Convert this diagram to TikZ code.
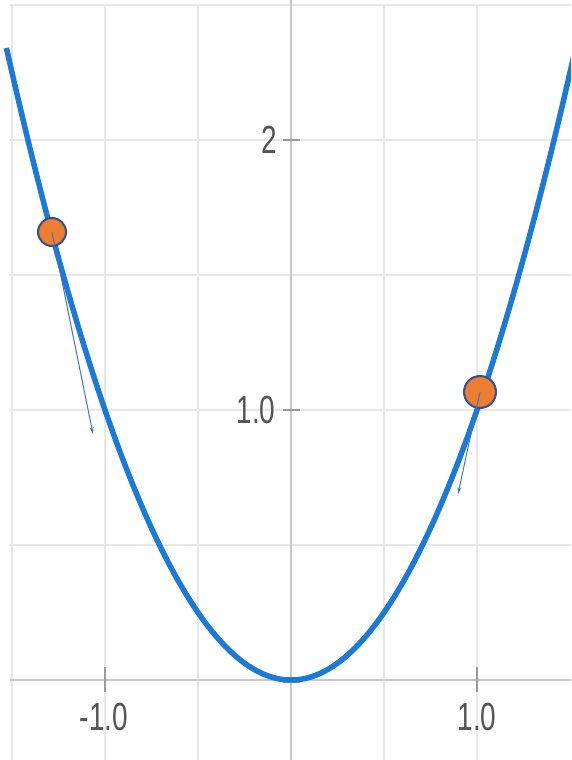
\documentclass[tikz,border=0pt]{standalone}
\usepackage{fontspec}
\setmainfont{Liberation Sans}
\usetikzlibrary{arrows.meta}
\definecolor{gridc}{HTML}{E8E8E8}
\definecolor{axisc}{HTML}{C8C8C8}
\definecolor{curvec}{HTML}{1B7AD6}
\definecolor{dotc}{HTML}{ED7D31}
\definecolor{dotb}{HTML}{2F528F}
\definecolor{arrc}{HTML}{4472C4}
\definecolor{labc}{HTML}{555555}
\definecolor{tickc}{HTML}{9A9A9A}
\begin{document}
\begin{tikzpicture}[x=1pt,y=-1pt,
 gridline/.style={gridc,line width=2.5pt},
 axisline/.style={axisc,line width=2.5pt},
 tickmark/.style={tickc,line width=1.5pt},
 curve/.style={curvec,line width=5.5pt},
 dot/.style={circle,fill=dotc,draw=dotb,line width=2pt,inner sep=0pt},
 vec/.style={arrc,line width=1pt,-{Stealth[length=7pt,width=4pt]}},
 lab/.style={text=labc,font=\fontsize{28}{28}\selectfont,yscale=1.4,inner sep=0pt}]
\useasboundingbox (0,0) rectangle (571,760);
\fill[white] (0,0) rectangle (571,760);
% grid
\foreach \x in {12,105,198,384,477} \draw[gridline] (\x,5) -- (\x,760);
\foreach \y in {5,140,275,410,545} \draw[gridline] (10,\y) -- (571,\y);
% axes
\draw[axisline] (10,680) -- (571,680);
\draw[axisline] (291,0) -- (291,760);
% ticks
\draw[tickmark] (105,667) -- (105,692);
\draw[tickmark] (477,667) -- (477,692);
\draw[tickmark] (283,140) -- (300,140);
\draw[tickmark] (283,410) -- (300,410);
\draw[tickmark] (283,682) -- (300,682);
% labels
\node[lab] (lxm) at (104,717) {-1.0};
\node[lab] (lxp) at (477,717) {1.0};
\node[lab] (ly2) at (269,140) {2};
\node[lab] (ly1) at (256,410) {1.0};
% curve
\begin{scope}
\clip (0,0) rectangle (571,760);
\draw[curve] plot[domain=-1.53:1.54, samples=120, smooth] ({291+186*\x},{680-270*\x*\x});
\end{scope}
% points
\node[dot, minimum size=28pt] (p1) at (52,232) {};
\node[dot, minimum size=32pt] (p2) at (480,392) {};
\coordinate (e1) at (93,434);
\coordinate (e2) at (458,494);
\draw[vec] (p1.center) -- (e1);
\draw[vec] (p2.center) -- (e2);
\end{tikzpicture}
\end{document}
